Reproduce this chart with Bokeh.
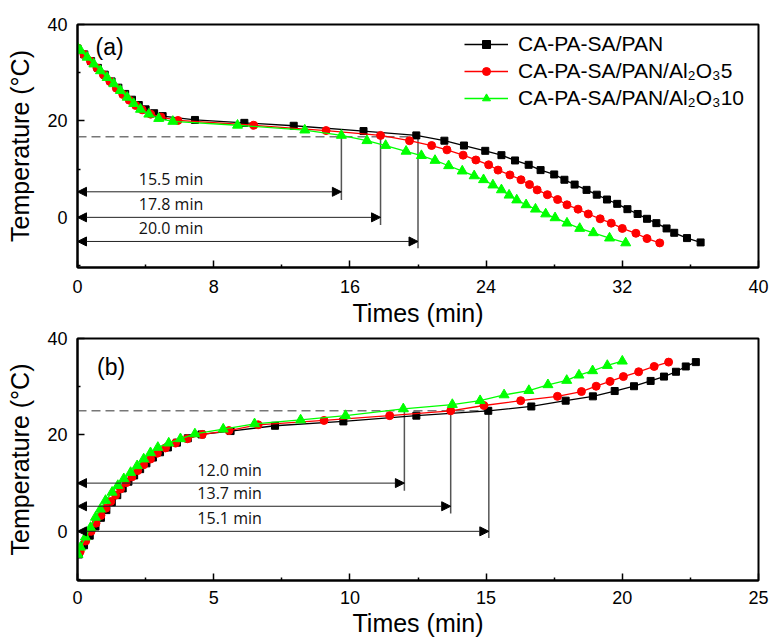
from bokeh.plotting import figure
from bokeh.models import (FixedTicker, Arrow, NormalHead, Label, Legend, LegendItem, Range1d)
from bokeh.layouts import column
from bokeh.embed import file_html
from bokeh.resources import INLINE
from bokeh.core.properties import value

FONT = "Liberation Sans"

# ---------------- Panel (a): cooling ----------------
ta_black = [0, 0.4, 0.8, 1.2, 1.6, 2.0, 2.4, 2.8, 3.2, 3.6, 4.0, 4.5, 5.0, 6.9, 9.8, 12.7, 16.8, 19.9,
            21.55, 22.7, 23.95, 24.9, 25.7, 26.5, 27.2, 28.0, 28.6, 29.2, 29.9, 30.5, 31.1, 31.7, 32.3,
            32.9, 33.45, 34.0, 34.6, 35.05, 35.8, 36.6]
Ta_black = [35.0, 33.8, 32.4, 31.0, 29.6, 28.2, 26.9, 25.6, 24.4, 23.3, 22.4, 21.6, 21.0, 20.2, 19.6, 19.0,
            17.9, 17.0, 15.9, 14.9, 13.8, 12.9, 11.8, 10.9, 9.8, 8.9, 7.8, 6.8, 5.7, 4.7, 3.7, 2.8, 1.7,
            0.7, -0.3, -1.2, -2.3, -3.2, -4.3, -5.2]

ta_red = [0, 0.38, 0.76, 1.14, 1.52, 1.9, 2.28, 2.66, 3.04, 3.42, 3.8, 4.3, 4.9, 5.9, 10.35, 14.6, 17.8,
          19.5, 20.8, 21.7, 22.65, 23.4, 24.15, 24.7, 25.4, 26.05, 26.55, 27.0, 27.6, 28.2, 28.75, 29.4,
          30.0, 30.7, 31.35, 32.0, 32.8, 33.45, 34.2]
Ta_red = [35.1, 33.8, 32.4, 31.0, 29.6, 28.2, 26.8, 25.5, 24.3, 23.2, 22.3, 21.4, 20.8, 20.1, 19.1, 18.0,
          17.0, 15.9, 14.9, 14.0, 12.9, 11.9, 10.9, 9.8, 8.8, 7.8, 6.8, 5.7, 4.7, 3.7, 2.6, 1.7, 0.7,
          -0.3, -1.2, -2.3, -3.3, -4.4, -5.3]

ta_green = [0, 0.18, 0.57, 0.96, 1.35, 1.74, 2.13, 2.52, 2.92, 3.3, 3.7, 4.19, 4.77, 5.6, 9.4, 13.35,
            15.5, 17.0, 18.1, 19.3, 20.2, 21.0, 21.8, 22.6, 23.3, 23.85, 24.4, 24.9, 25.35, 25.8, 26.35,
            26.9, 27.5, 28.05, 28.75, 29.5, 30.3, 31.25, 32.2]
Ta_green = [35.2, 34.6, 33.2, 31.8, 30.4, 29.0, 27.7, 26.3, 24.9, 23.6, 22.4, 21.4, 20.5, 19.9, 19.1,
            18.1, 17.0, 15.9, 14.9, 13.7, 12.8, 11.8, 10.7, 9.6, 8.6, 7.8, 6.7, 5.7, 4.6, 3.6, 2.6, 1.7,
            0.7, -0.1, -1.2, -2.3, -3.2, -4.3, -5.3]

a_ref_temp = 16.7          # dashed reference level
a_ref_end = 20.0
a_times = [15.5, 17.8, 20.0]
a_top = [16.9, 16.9, 17.2]
a_levels = [5.3, 0.0, -5.0]
a_bottom = [3.6, -1.6, -6.4]
a_label_x = 3.6

# ---------------- Panel (b): heating ----------------
tb_black = [0.05, 0.24, 0.45, 0.66, 0.86, 1.06, 1.26, 1.46, 1.66, 1.87, 2.08, 2.3, 2.53, 2.77, 3.03,
            3.32, 3.65, 4.05, 4.55, 5.62, 7.25, 9.76, 12.44, 15.08, 16.66, 17.92, 18.92, 19.72, 20.43,
            21.04, 21.53, 21.97, 22.33, 22.7]
Tb_black = [-4.8, -2.9, -0.9, 1.0, 2.8, 4.4, 6.0, 7.5, 8.9, 10.3, 11.6, 12.9, 14.1, 15.3, 16.4, 17.4,
            18.4, 19.3, 20.1, 20.8, 21.9, 22.8, 24.0, 25.0, 25.9, 27.1, 28.0, 29.1, 30.1, 31.2, 32.1,
            33.1, 34.2, 35.1]

tb_red = [0.1, 0.3, 0.5, 0.68, 0.86, 1.04, 1.22, 1.4, 1.58, 1.79, 2.0, 2.21, 2.43, 2.68, 2.93, 3.23,
          3.6, 4.03, 4.58, 5.56, 6.63, 9.05, 11.46, 13.7, 14.92, 16.27, 17.62, 18.5, 19.04, 19.55, 20.04,
          20.6, 21.17, 21.7]
Tb_red = [-4.2, -2.0, 0.0, 1.7, 3.3, 4.8, 6.2, 7.5, 8.8, 10.1, 11.3, 12.6, 13.8, 15.0, 16.2, 17.3, 18.3,
          19.2, 20.1, 20.9, 22.1, 23.0, 24.0, 25.0, 26.1, 27.1, 28.0, 29.0, 30.1, 31.1, 32.1, 33.1, 34.2,
          35.1]

tb_green = [0.02, 0.11, 0.29, 0.48, 0.66, 0.84, 1.03, 1.27, 1.48, 1.7, 1.95, 2.19, 2.43, 2.68, 2.95,
            3.35, 3.78, 4.31, 5.35, 6.5, 8.19, 9.84, 11.96, 13.76, 14.78, 15.66, 16.57, 17.27, 17.96,
            18.41, 18.91, 19.45, 20.0]
Tb_green = [-4.8, -3.3, -1.2, 0.8, 2.9, 4.6, 6.4, 8.1, 9.5, 10.9, 12.2, 13.6, 15.0, 16.3, 17.4, 18.3,
            19.2, 20.2, 21.2, 22.3, 23.1, 24.0, 25.4, 26.3, 27.1, 28.3, 29.2, 30.4, 31.3, 32.4, 33.3,
            34.4, 35.3]

b_ref_temp = 25.0
b_ref_end = 15.1
b_times = [12.0, 13.7, 15.1]
b_top = [25.3, 25.1, 25.0]
b_levels = [10.0, 5.2, 0.0]
b_bottom = [8.4, 3.7, -1.4]
b_label_x = 4.4

labels = ["CA-PA-SA/PAN", "CA-PA-SA/PAN/Al\u2082O\u20835", "CA-PA-SA/PAN/Al\u2082O\u208310"]
colors = ["#000000", "#ff0000", "#00ff00"]
markers = ["square", "circle", "triangle"]
msizes = [7, 8, 10]

a_xticks = [0, 8, 16, 24, 32, 40]
a_xminor = [4, 12, 20, 28, 36]
b_xticks = [0, 5, 10, 15, 20, 25]
b_xminor = [2.5, 7.5, 12.5, 17.5, 22.5]
yticks = [0, 20, 40]
yminor = [-10, 10, 30]


def make_fig(height, top, bottom, xr, yr, xt, xm, xstand, xlabstand):
    p = figure(width=770, height=height, output_backend="svg", toolbar_location=None,
               x_range=Range1d(*xr), y_range=Range1d(*yr),
               min_border_left=77, min_border_right=12, min_border_top=top, min_border_bottom=bottom)
    p.xgrid.visible = False
    p.ygrid.visible = False
    p.outline_line_color = "black"
    p.outline_line_width = 2
    p.outline_line_alpha = 1
    p.background_fill_color = "white"
    p.border_fill_color = "white"
    p.xaxis.ticker = FixedTicker(ticks=xt, minor_ticks=xm)
    p.yaxis.ticker = FixedTicker(ticks=yticks, minor_ticks=yminor)
    for ax in (p.xaxis[0], p.yaxis[0]):
        ax.axis_line_width = 2
        ax.axis_line_color = "black"
        ax.major_tick_in = 7
        ax.major_tick_out = 0
        ax.minor_tick_in = 3
        ax.minor_tick_out = 0
        ax.major_tick_line_width = 1.5
        ax.minor_tick_line_width = 1.5
        ax.major_label_text_font = FONT
        ax.major_label_text_font_size = "18px"
        ax.major_label_text_color = "black"
        ax.axis_label_text_font = FONT
        ax.axis_label_text_font_size = "25px"
        ax.axis_label_text_font_style = "normal"
        ax.axis_label_text_color = "black"
    p.xaxis.axis_label = "Times (min)"
    p.yaxis.axis_label = "Temperature (\u00b0C)"
    p.xaxis.major_label_standoff = xstand
    p.xaxis.axis_label_standoff = xlabstand
    p.yaxis.major_label_standoff = 10
    p.yaxis.axis_label_standoff = 10
    return p


def add_series(p, xs, ys):
    rs = []
    for x, y, c, m, s in zip(xs, ys, colors, markers, msizes):
        l = p.line(x, y, line_color=c, line_width=1.3)
        sc = p.scatter(x, y, marker=m, size=s, fill_color=c, line_color=c)
        rs.append([l, sc])
    return rs


def add_annotations(p, ref_temp, ref_end, times, top, levels, bottom, label_x):
    p.line([0, ref_end], [ref_temp, ref_temp], line_color="#777777", line_width=1.5,
           line_dash="9 5")
    p.segment(x0=times, y0=top, x1=times, y1=bottom, line_color="#555555", line_width=1.5)
    for t, lv in zip(times, levels):
        p.add_layout(Arrow(x_start=0, y_start=lv, x_end=t, y_end=lv,
                           start=NormalHead(size=9, fill_color="black", line_color="black"),
                           end=NormalHead(size=9, fill_color="black", line_color="black"),
                           line_color="#222222", line_width=1))
    p.text(x=[label_x] * len(times), y=levels, text=["%.1f min" % t for t in times],
           text_font=value("Open Sans"), text_font_size="16px", text_color="#111111",
           text_align="left", text_baseline="bottom", y_offset=-2)


# ---- figure (a)
p1 = make_fig(329, 24, 62, (0, 40), (-10.4, 40), a_xticks, a_xminor, 12, 3)
add_annotations(p1, a_ref_temp, a_ref_end, a_times, a_top, a_levels, a_bottom, a_label_x)
rs1 = add_series(p1, [ta_black, ta_red, ta_green], [Ta_black, Ta_red, Ta_green])
p1.add_layout(Label(x=1.06, y=35.3, text="(a)", text_font=FONT, text_font_size="23px",
                    text_baseline="middle", text_color="black"))
legend = Legend(items=[LegendItem(label=lab, renderers=r) for lab, r in zip(labels, rs1)],
                location=(387, 157), glyph_width=44, glyph_height=20, label_height=20,
                label_standoff=10, spacing=3, padding=0, margin=0,
                label_text_font=FONT, label_text_font_size="21px", label_text_color="black",
                border_line_color=None, background_fill_alpha=0)
p1.add_layout(legend)

# ---- figure (b)
p2 = make_fig(313, 9, 62, (0, 25), (-10.2, 40), b_xticks, b_xminor, 10, 2)
add_annotations(p2, b_ref_temp, b_ref_end, b_times, b_top, b_levels, b_bottom, b_label_x)
add_series(p2, [tb_black, tb_red, tb_green], [Tb_black, Tb_red, Tb_green])
p2.add_layout(Label(x=0.72, y=34.0, text="(b)", text_font=FONT, text_font_size="23px",
                    text_baseline="middle", text_color="black"))

layout = column(p1, p2)
open("out.html", "w").write(file_html(layout, INLINE))
